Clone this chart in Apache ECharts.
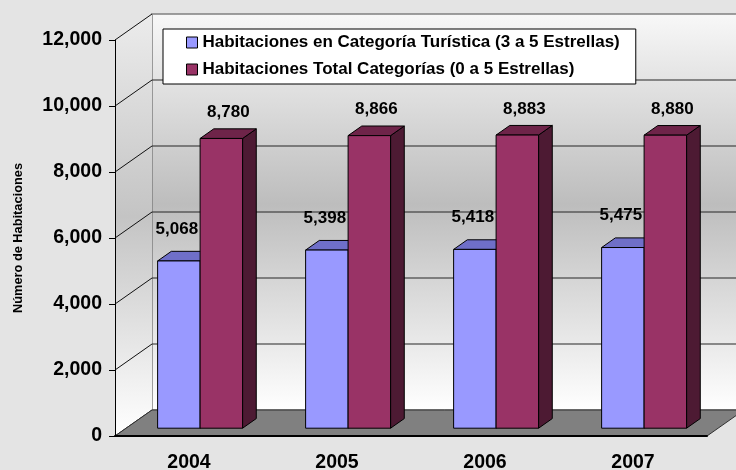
<!DOCTYPE html>
<html>
<head>
<meta charset="utf-8">
<script src="https://cdn.jsdelivr.net/npm/echarts@6/dist/echarts.min.js"></script>
<style>
  html, body { margin: 0; padding: 0; background: #e4e4e4; }
  #habitaciones-chart { width: 736px; height: 470px; }
</style>
</head>
<body>
<div id="habitaciones-chart"></div>
<script>
var categories = ["2004", "2005", "2006", "2007"];
var turistica = [5068, 5398, 5418, 5475];
var totalCategorias = [8780, 8866, 8883, 8880];
var yTicks = [0, 2000, 4000, 6000, 8000, 10000, 12000];
var seriesNames = [
  "Habitaciones en Categoría Turística (3 a 5 Estrellas)",
  "Habitaciones Total Categorías (0 a 5 Estrellas)"
];

var FONT = '"Liberation Sans", Arial, sans-serif';
var DX = 37, DY = -26; // depth of the fake 3d box
var BAR_FRONT = 0.3, BAR_BACK = 0.67; // where the bars sit inside that depth

var myChart = echarts.init(document.getElementById("habitaciones-chart"));

function fmt(v) {
  return Number(v).toLocaleString("en-US");
}

var wallFill = new echarts.graphic.LinearGradient(0, 0, 0, 1, [
  { offset: 0, color: "#f8f8f8" },
  { offset: 0.48, color: "#bdbdbd" },
  { offset: 1, color: "#ffffff" }
]);
var sideFill = new echarts.graphic.LinearGradient(0, 0, 0, 1, [
  { offset: 0, color: "#ececec" },
  { offset: 0.48, color: "#c4c4c4" },
  { offset: 1, color: "#ffffff" }
]);

// back wall, side wall, floor and the gridlines
function renderWalls(params, api) {
  var cs = params.coordSys;
  var tick = api.value(1);
  var y = api.coord([0, tick])[1];
  var x0 = cs.x, x1 = cs.x + cs.width, yt = cs.y, yb = cs.y + cs.height;
  var children = [];
  if (params.dataIndex === 0) {
    children.push({
      type: "rect", z2: 0,
      shape: { x: x0 + DX, y: yt + DY, width: cs.width + 20, height: cs.height },
      style: { fill: wallFill, stroke: "#808080", lineWidth: 1.5 }
    });
    children.push({
      type: "polygon", z2: 1,
      shape: { points: [[x0, yt], [x0 + DX, yt + DY], [x0 + DX, yb + DY], [x0, yb]] },
      style: { fill: sideFill }
    });
    children.push({
      type: "polygon", z2: 3,
      shape: { points: [[x0, yb], [x1, yb], [x1 + DX, yb + DY], [x0 + DX, yb + DY]] },
      style: { fill: "#808080", stroke: "#303030", lineWidth: 1 }
    });
  }
  if (tick > yTicks[0] && tick < yTicks[yTicks.length - 1]) {
    children.push({
      type: "line", z2: 2,
      shape: { x1: x0 + DX, y1: y + DY, x2: x1 + DX + 20, y2: y + DY },
      style: { stroke: "#262626", lineWidth: 1.2 }
    });
  }
  children.push({
    type: "line", z2: 2,
    shape: { x1: x0, y1: y, x2: x0 + DX, y2: y + DY },
    style: { stroke: "#111", lineWidth: 1 }
  });
  return { type: "group", children: children };
}

function makeBarRenderer(side, front, top, right, labelDx, labelDy) {
  return function (params, api) {
    var idx = api.value(0), val = api.value(1);
    var base = api.coord([idx, 0]);
    var peak = api.coord([idx, val]);
    var w = api.size([1, 0])[0] * 0.287;
    var dx = DX * (BAR_BACK - BAR_FRONT), dy = DY * (BAR_BACK - BAR_FRONT);
    var L = base[0] + (side === 0 ? -w : 0) + DX * BAR_FRONT;
    var R = L + w;
    var B = base[1] + DY * BAR_FRONT;
    var T = peak[1] + DY * BAR_FRONT;
    var line = { stroke: "#000", lineWidth: 1 };
    return {
      type: "group",
      children: [
        { type: "polygon", z2: 10 + side,
          shape: { points: [[R, T], [R + dx, T + dy], [R + dx, B + dy], [R, B]] },
          style: Object.assign({ fill: right }, line) },
        { type: "polygon", z2: 10 + side,
          shape: { points: [[L, T], [L + dx, T + dy], [R + dx, T + dy], [R, T]] },
          style: Object.assign({ fill: top }, line) },
        { type: "rect", z2: 10 + side,
          shape: { x: L, y: T, width: w, height: B - T },
          style: Object.assign({ fill: front }, line) },
        { type: "text", z2: 50,
          style: {
            text: fmt(val), x: (L + R) / 2 + labelDx, y: T + labelDy,
            align: "center", verticalAlign: "middle",
            font: "bold 17px " + FONT, fill: "#000"
          } }
      ]
    };
  };
}

myChart.setOption({
  backgroundColor: "#e4e4e4",
  animation: false,
  grid: { left: 115, right: 29, top: 40, bottom: 34, outerBoundsMode: "none" },
  legend: {
    data: seriesNames,
    orient: "vertical",
    left: 163, top: 29,
    padding: [5, 16, 6, 23],
    backgroundColor: "#fff",
    borderColor: "#000",
    borderWidth: 1,
    icon: "rect",
    itemWidth: 11, itemHeight: 11,
    itemGap: 10,
    itemStyle: { borderColor: "#000", borderWidth: 1 },
    selectedMode: false,
    textStyle: { fontFamily: FONT, fontWeight: "bold", fontSize: 17, lineHeight: 16, color: "#000" }
  },
  xAxis: {
    type: "category",
    data: categories,
    z: 10,
    axisLine: { lineStyle: { color: "#000", width: 2 } },
    axisTick: { length: 7, lineStyle: { color: "#000", width: 1 } },
    axisLabel: { fontFamily: FONT, fontWeight: "bold", fontSize: 19.5, color: "#000", margin: 17 },
    splitLine: { show: false }
  },
  yAxis: {
    type: "value",
    min: yTicks[0],
    max: yTicks[yTicks.length - 1],
    interval: yTicks[1] - yTicks[0],
    z: 10,
    name: "Número de Habitaciones",
    nameLocation: "middle",
    nameRotate: 90,
    nameGap: 90,
    nameTextStyle: { fontFamily: FONT, fontWeight: "bold", fontSize: 12.8, color: "#000" },
    axisLine: { show: true, lineStyle: { color: "#000", width: 1 } },
    axisTick: { show: true, length: 6, lineStyle: { color: "#000" } },
    axisLabel: { formatter: fmt, fontFamily: FONT, fontWeight: "bold", fontSize: 19.5, color: "#000", margin: 13 },
    splitLine: { show: false }
  },
  series: [
    {
      type: "custom", name: "walls", z: 1, silent: true,
      renderItem: renderWalls,
      data: yTicks.map(function (t) { return [0, t]; })
    },
    {
      type: "custom", name: seriesNames[0], z: 2,
      itemStyle: { color: "#9999ff" },
      renderItem: makeBarRenderer(0, "#9999ff", "#6f6fc8", "#5c5ca8", -2, -32),
      data: turistica.map(function (v, i) { return [i, v]; })
    },
    {
      type: "custom", name: seriesNames[1], z: 2,
      itemStyle: { color: "#993366" },
      renderItem: makeBarRenderer(1, "#993366", "#6e2449", "#4d1a33", 7, -26),
      data: totalCategorias.map(function (v, i) { return [i, v]; })
    }
  ]
});
</script>
</body>
</html>
